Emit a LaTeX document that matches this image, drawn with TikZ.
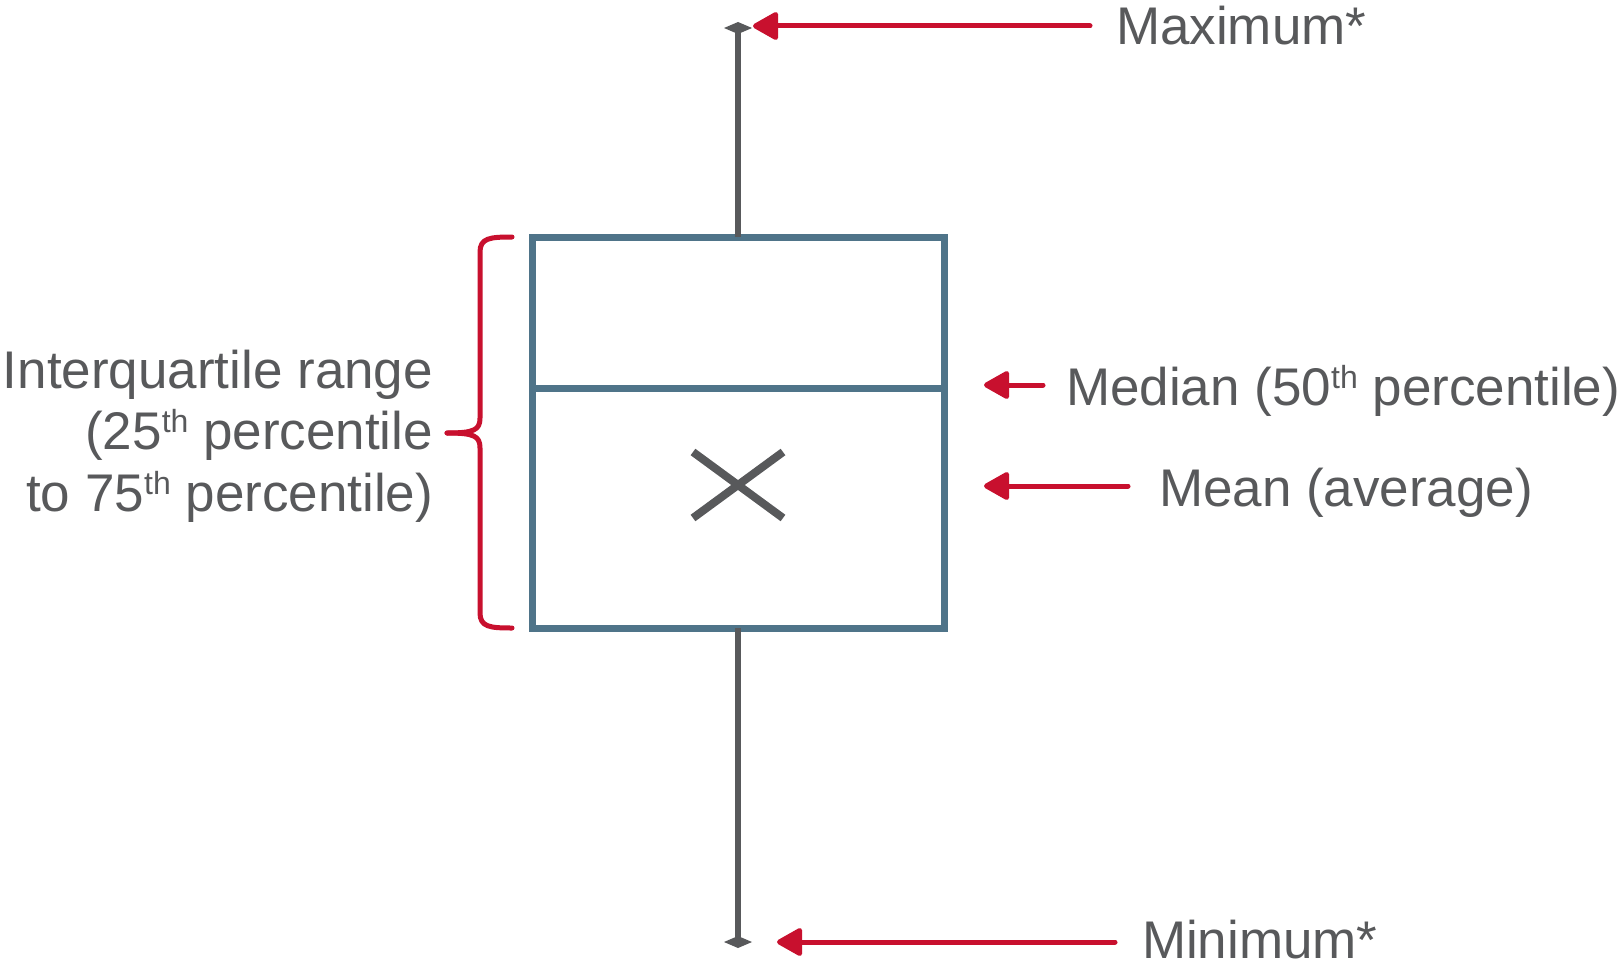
\documentclass[tikz,border=0pt]{standalone}
\usepackage{fontspec}
\setmainfont{Liberation Sans}
\usetikzlibrary{arrows.meta,calc}
\definecolor{txtgray}{HTML}{58595B}
\definecolor{boxblue}{HTML}{4F7489}
\definecolor{accred}{HTML}{C8102E}
\tikzset{
  lbl/.style={inner sep=0pt, outer sep=0pt, text=txtgray, font=\fontsize{53}{61.5}\selectfont},
  boxline/.style={draw=boxblue, line width=7pt},
  whisker/.style={draw=txtgray, line width=6pt, -{Diamond[width=28pt,length=12pt]}},
  redarrow/.style={draw=accred, line width=5pt, line cap=round, -{Triangle[length=28pt,width=30pt,round]}},
  bracestyle/.style={draw=accred, line width=5pt, line cap=round, line join=round},
  meanmark/.style={draw=txtgray, line width=8pt}
}
\newcommand{\supth}{\raisebox{17pt}{\fontsize{32}{32}\selectfont th}}
\begin{document}
\begin{tikzpicture}[x=1pt,y=-1pt]
\useasboundingbox[fill=white] (0,0) rectangle (1624,966);
% box
\node[boxline, inner sep=0pt, outer sep=0pt, minimum width=412pt, minimum height=391pt] (box) at (738,432.5) {};
\coordinate (medL) at (532,388);
\coordinate (medR) at (944,388);
\draw[boxline] (medL) -- (medR);
% whiskers
\coordinate (maxpt) at (738,22);
\coordinate (minpt) at (738,948);
\draw[whisker] (box.north) -- (maxpt);
\draw[whisker] (box.south) -- (minpt);
% mean marker
\coordinate (mean) at (738,485);
\draw[meanmark] ($(mean)+(-45,-33)$) -- ($(mean)+(45,33)$);
\draw[meanmark] ($(mean)+(-45,33)$) -- ($(mean)+(45,-33)$);
% labels
\node[lbl, anchor=base west] (maxlbl) at (1116,45) {Maximum*};
\node[lbl, anchor=base west] (minlbl) at (1142,958) {Minimum*};
\node[lbl, anchor=base west] (medlbl) at (1066,405) {Median (50\supth{} percentile)};
\node[lbl, anchor=base west] (meanlbl) at (1159,506) {Mean (average)};
\node[lbl, anchor=east, align=right] (iqrlbl) at (433,436) {Interquartile range\\(25\supth{} percentile\\to 75\supth{} percentile)};
% arrows
\coordinate (maxend) at (1090,26);
\coordinate (maxtip) at (753,26);
\coordinate (minend) at (1115,942);
\coordinate (mintip) at (777,942);
\coordinate (medend) at (1043,385);
\coordinate (medtip) at (984,385);
\coordinate (meanend) at (1128,486);
\coordinate (meantip) at (984,486);
\draw[redarrow] (maxend) -- (maxtip);
\draw[redarrow] (minend) -- (mintip);
\draw[redarrow] (medend) -- (medtip);
\draw[redarrow] (meanend) -- (meantip);
% brace
\coordinate (btop) at (512,237);
\coordinate (bbot) at (512,628);
\coordinate (btip) at (447,433);
\draw[bracestyle] (btop) .. controls (490,237) and (480,238) .. (480,252) -- (480,418) .. controls (480,430) and (474,433) .. (btip);
\draw[bracestyle] (btip) .. controls (474,433) and (480,436) .. (480,448) -- (480,613) .. controls (480,627) and (490,628) .. (bbot);
\end{tikzpicture}
\end{document}
